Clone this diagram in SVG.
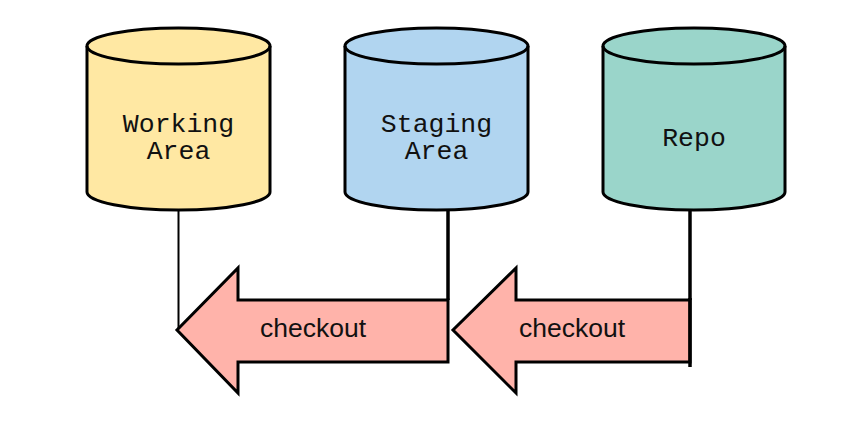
<svg xmlns="http://www.w3.org/2000/svg" width="850" height="421" viewBox="0 0 850 421">
<style>
.cyl{stroke:#000;stroke-width:3}
.lbl{font-family:"Liberation Mono","Cousine",monospace;font-size:26.5px;fill:#111;text-anchor:middle}
.arr{fill:#FFB3AA;stroke:#000;stroke-width:3;stroke-linejoin:miter}
.albl{font-family:"Liberation Sans",Arial,sans-serif;font-size:26.5px;fill:#111;text-anchor:middle}
.conn{stroke:#000;fill:none}
</style>
<rect width="850" height="421" fill="#fff"/>
<g id="working">
<path class="cyl" fill="#FFE8A3" d="M87,46 A91.5,18 0 0 1 270,46 V192 A91.5,18 0 0 1 87,192 Z"/>
<path class="cyl" fill="none" d="M87,46 A91.5,18 0 0 0 270,46"/>
<text class="lbl" x="178.5" y="132"><tspan x="178.5" y="132">Working</tspan><tspan x="178.5" y="158.5">Area</tspan></text>
</g>
<g id="staging">
<path class="cyl" fill="#B1D5F0" d="M345,46 A91.5,18 0 0 1 528,46 V192 A91.5,18 0 0 1 345,192 Z"/>
<path class="cyl" fill="none" d="M345,46 A91.5,18 0 0 0 528,46"/>
<text class="lbl" x="436.5" y="132"><tspan x="436.5" y="132">Staging</tspan><tspan x="436.5" y="158.5">Area</tspan></text>
</g>
<g id="repo">
<path class="cyl" fill="#9AD5CA" d="M603,46 A91,18 0 0 1 785,46 V192 A91,18 0 0 1 603,192 Z"/>
<path class="cyl" fill="none" d="M603,46 A91,18 0 0 0 785,46"/>
<text class="lbl" x="694" y="146">Repo</text>
</g>
<g id="connectors">
<line class="conn" stroke-width="2" x1="178.5" y1="210" x2="178.5" y2="330"/>
<line class="conn" stroke-width="3.5" x1="448" y1="210" x2="448" y2="300"/>
<line class="conn" stroke-width="3.5" x1="690" y1="210" x2="690" y2="300"/>
</g>
<g id="checkout1">
<path class="arr" d="M448,300 H238 V268 L177,330 L238,393 V362 H448 Z"/>
<text class="albl" x="313" y="337">checkout</text>
</g>
<g id="checkout2">
<path class="arr" d="M690,300 H516 V268 L453,330 L516,393 V362 H690 Z"/>
<line class="conn" stroke-width="3.5" x1="690" y1="298" x2="690" y2="367"/>
<text class="albl" x="572" y="337">checkout</text>
</g>
</svg>
